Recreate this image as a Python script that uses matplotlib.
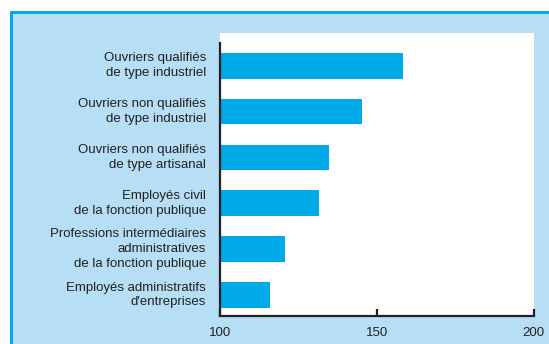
import matplotlib
matplotlib.use("Agg")
import matplotlib.pyplot as plt
from matplotlib.patches import Rectangle

# Data (top to bottom)
categories = [
    "Ouvriers qualifiés\nde type industriel",
    "Ouvriers non qualifiés\nde type industriel",
    "Ouvriers non qualifiés\nde type artisanal",
    "Employés civil\nde la fonction publique",
    "Professions intermédiaires\nadministratives\nde la fonction publique",
    "Employés administratifs\nd'entreprises",
]
values = [158.4, 145.3, 134.8, 131.6, 120.7, 116.0]
xticks = [100, 150, 200]

bar_color = "#00a9e8"
panel_color = "#b6dff6"
text_color = "#231f20"

plt.rcParams['font.family'] = ['Liberation Sans Narrow', 'Liberation Sans', 'DejaVu Sans']

fig = plt.figure(figsize=(5.49, 3.44), dpi=100)
fig.patch.set_facecolor("white")

# light blue panel with darker top/left border
W, H = 549, 344
fig.patches.append(Rectangle((10 / W, 0), 1, (H - 11) / H, transform=fig.transFigure,
                             facecolor=bar_color, edgecolor="none", zorder=-10))
fig.patches.append(Rectangle((12.7 / W, 0), 1, (H - 14) / H, transform=fig.transFigure,
                             facecolor=panel_color, edgecolor="none", zorder=-9))

ax = fig.add_axes([220 / W, 28 / H, 313.5 / W, (316 - 33.3) / H])
ax.set_facecolor("white")

pos = list(range(len(categories)))
ax.barh(pos, [v - 100 for v in values], left=100, height=0.56, color=bar_color, zorder=2)

ax.set_xlim(100, 200)
ax.set_ylim(5.46, -0.71)

for s in ["top", "right"]:
    ax.spines[s].set_visible(False)
ax.spines["left"].set_bounds(5.46, -0.5)
ax.spines["left"].set_linewidth(1.6)
ax.spines["bottom"].set_linewidth(1.6)
ax.spines["left"].set_color(text_color)
ax.spines["bottom"].set_color(text_color)

ax.set_xticks(xticks)
ax.set_xticklabels([str(t) for t in xticks])
ax.tick_params(axis="x", direction="in", length=5, width=1.6, colors=text_color,
               labelsize=9.5, pad=8, labelcolor=text_color)
ax.set_yticks([])

for p, lab in zip(pos, categories):
    ax.text(-0.045, p, lab, transform=ax.get_yaxis_transform(), ha="right", va="center",
            fontsize=9.5, color=text_color, linespacing=1.3)

fig.savefig("out.png", dpi=100, facecolor=fig.get_facecolor())
